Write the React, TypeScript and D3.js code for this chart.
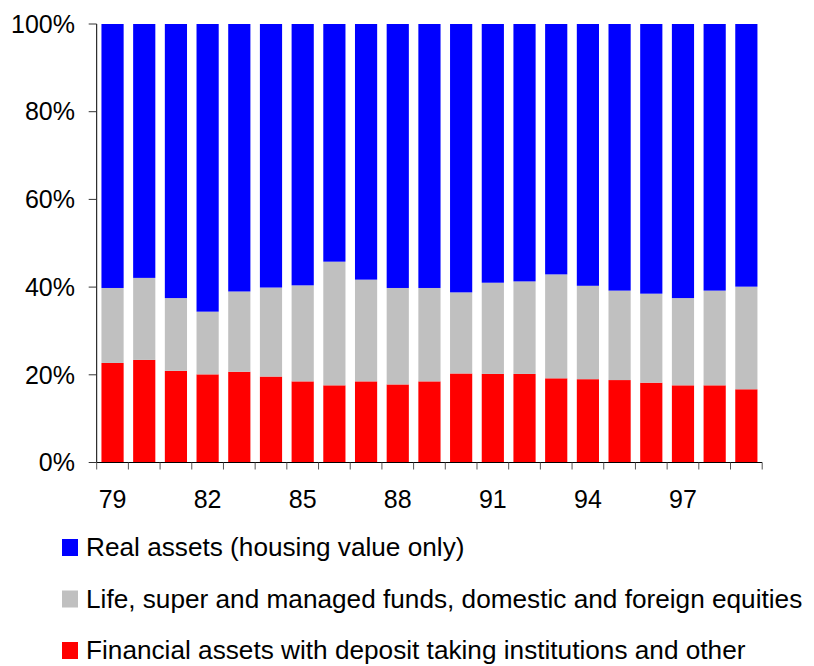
import React from "react";
import * as d3 from "d3";

const years = ["79","80","81","82","83","84","85","86","87","88","89","90","91","92","93","94","95","96","97","98","99"];
const tickYears = ["79","82","85","88","91","94","97"];
const financial = [22.7, 23.4, 20.9, 20.1, 20.7, 19.6, 18.5, 17.6, 18.5, 17.8, 18.5, 20.3, 20.2, 20.2, 19.2, 19.0, 18.8, 18.2, 17.6, 17.6, 16.7];
const lifeSuper = [17.1, 18.7, 16.6, 14.3, 18.3, 20.3, 21.9, 28.2, 23.2, 22.0, 21.3, 18.5, 20.8, 21.1, 23.7, 21.3, 20.4, 20.3, 19.9, 21.6, 23.4];
const realAssets = [60.2, 57.9, 62.5, 65.6, 61.0, 60.1, 59.6, 54.2, 58.3, 60.2, 60.2, 61.2, 59.0, 58.7, 57.1, 59.7, 60.8, 61.5, 62.5, 60.8, 59.9];
const yTicks = [0, 20, 40, 60, 80, 100];

const seriesKeys = ["financial", "lifeSuper", "real"];
const seriesColors: Record<string, string> = { financial: "#FF0000", lifeSuper: "#C0C0C0", real: "#0000FF" };
const legendItems = [
  { key: "real", label: "Real assets (housing value only)" },
  { key: "lifeSuper", label: "Life, super and managed funds, domestic and foreign equities" },
  { key: "financial", label: "Financial assets with deposit taking institutions and other" },
];

export default function App() {
  const W = 814, H = 666;
  const x0 = 96.7, x1 = 762.2, yBottom = 462.5, yTop = 24;
  const font = "'Liberation Sans', Arial, sans-serif";

  const rows = years.map((y, i) => ({
    year: y,
    financial: financial[i],
    lifeSuper: lifeSuper[i],
    real: realAssets[i],
  }));
  const stacked = d3.stack<any>().keys(seriesKeys).offset(d3.stackOffsetExpand)(rows);

  const x = d3.scaleBand<string>().domain(years).range([x0, x1]).paddingInner(0.3).paddingOuter(0.15);
  const y = d3.scaleLinear().domain([0, 1]).range([yBottom, yTop]);
  const step = x.step();

  return (
    <svg width={W} height={H} style={{ position: "absolute", left: 0, top: 0, background: "#fff" }}>
      {stacked.map((s) => (
        <g key={s.key} fill={seriesColors[s.key]}>
          {s.map((d, i) => (
            <rect
              key={i}
              x={x(years[i])}
              y={y(d[1])}
              width={x.bandwidth()}
              height={y(d[0]) - y(d[1])}
            />
          ))}
        </g>
      ))}
      {/* Y axis */}
      <line x1={x0} x2={x0} y1={yTop} y2={yBottom} stroke="#000" strokeWidth={1} />
      {yTicks.map((t) => (
        <g key={t}>
          <line x1={x0 - 8} x2={x0} y1={y(t / 100)} y2={y(t / 100)} stroke="#333" strokeWidth={1} />
          <text x={75} y={y(t / 100)} dy="0.35em" textAnchor="end" fontFamily={font} fontSize={25} fill="#000">
            {t + "%"}
          </text>
        </g>
      ))}
      {/* X axis */}
      <line x1={x0} x2={x1} y1={yBottom} y2={yBottom} stroke="#000" strokeWidth={1} />
      {years.map((yr, i) => (
        <line key={yr} x1={x0 + i * step} x2={x0 + i * step} y1={yBottom} y2={yBottom + 7} stroke="#555" strokeWidth={1} />
      ))}
      <line x1={x1} x2={x1} y1={yBottom} y2={yBottom + 7} stroke="#555" strokeWidth={1} />
      {tickYears.map((yr) => (
        <text key={yr} x={(x(yr) as number) + x.bandwidth() / 2} y={508} textAnchor="middle" fontFamily={font} fontSize={25} fill="#000">
          {yr}
        </text>
      ))}
      {/* Legend */}
      {legendItems.map((it, i) => (
        <g key={it.key} transform={`translate(0, ${556 + i * 51.5})`}>
          <rect x={62} y={-17} width={16} height={17} fill={seriesColors[it.key]} />
          <text x={86} y={0} fontFamily={font} fontSize={26.2} fill="#000">
            {it.label}
          </text>
        </g>
      ))}
    </svg>
  );
}
